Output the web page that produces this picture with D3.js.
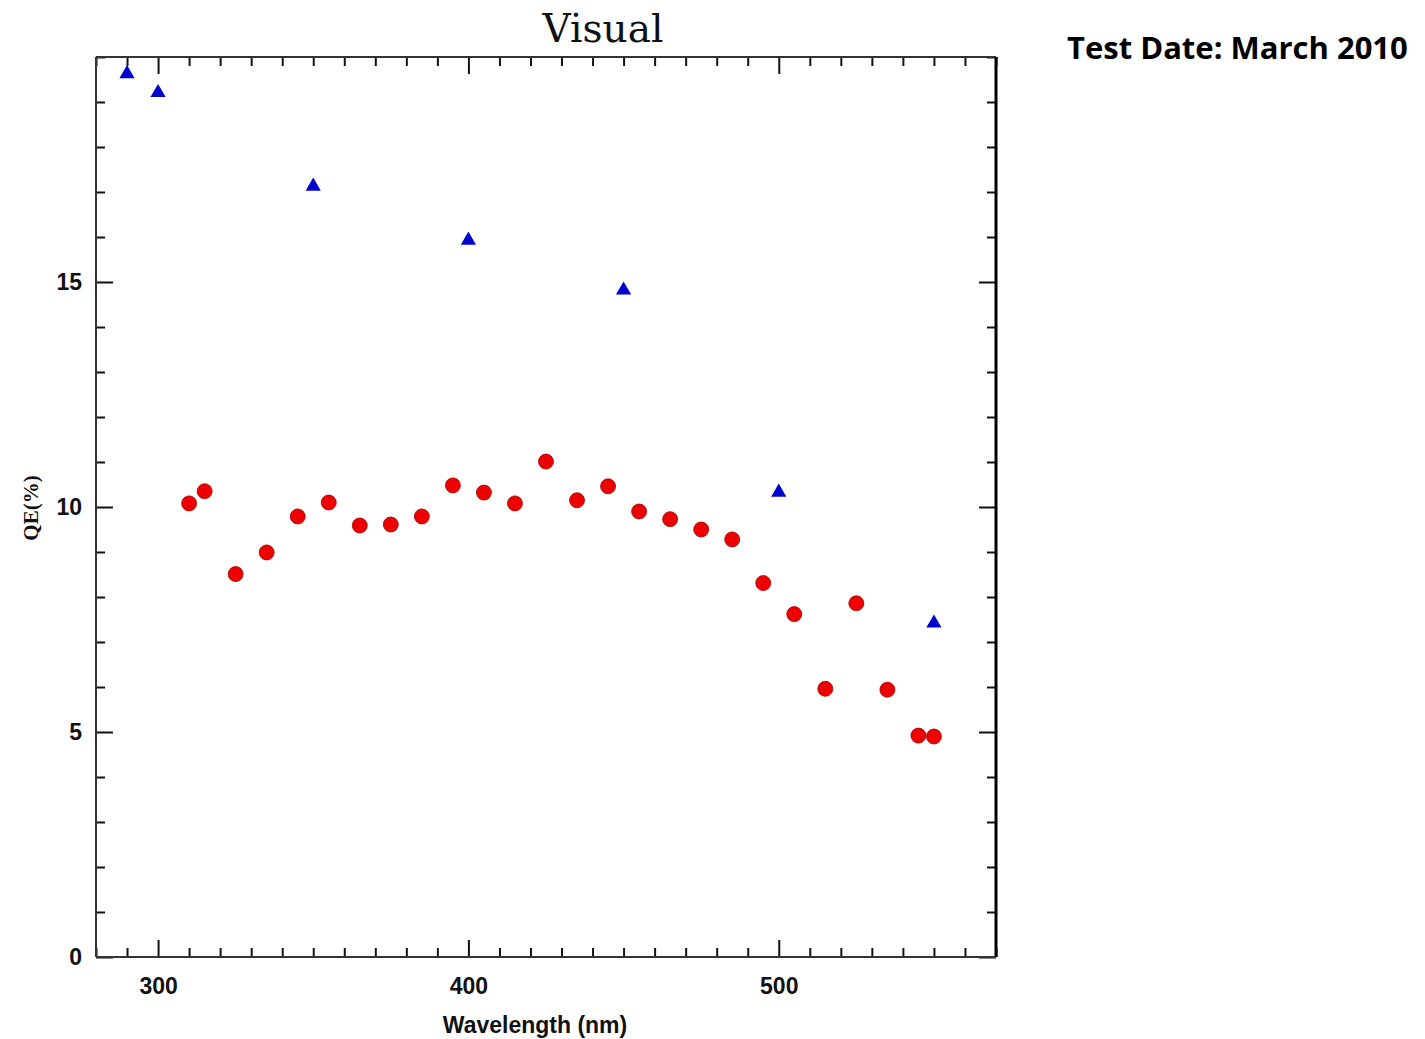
<!DOCTYPE html>
<html>
<head>
<meta charset="utf-8">
<script src="https://cdn.jsdelivr.net/npm/d3@7"></script>
<style>
  body { margin: 0; background: #fff; }
</style>
</head>
<body>
<script>
// red circles: measured QE
const wlRed = [310, 315, 325, 335, 345, 355, 365, 375, 385, 395, 405, 415, 425,
               435, 445, 455, 465, 475, 485, 495, 505, 515, 525, 535, 545, 550];
const qeRed = [10.08, 10.35, 8.51, 8.99, 9.79, 10.10, 9.59, 9.61, 9.79, 10.48, 10.32, 10.08, 11.01,
               10.15, 10.46, 9.90, 9.73, 9.50, 9.28, 8.31, 7.62, 5.96, 7.86, 5.94, 4.92, 4.90];
// blue triangles
const wlBlue = [290, 300, 350, 400, 450, 500, 550];
const qeBlue = [19.65, 19.23, 17.15, 15.95, 14.84, 10.35, 7.44];

const xMajor = [300, 400, 500];
const yMajor = [0, 5, 10, 15];

const W = 1425, H = 1039;
const pLeft = 96, pRight = 996, pTop = 57, pBottom = 957;

const svg = d3.select("body").append("svg")
    .attr("width", W)
    .attr("height", H);

const x = d3.scaleLinear().domain([280, 570]).range([pLeft, pRight]);
const y = d3.scaleLinear().domain([0, 20]).range([pBottom, pTop]);

const xMinor = d3.range(280, 571, 10).filter(d => !xMajor.includes(d));
const yMinor = d3.range(0, 21, 1).filter(d => !yMajor.includes(d));

function styleAxis(g, showText) {
  g.select(".domain").remove();
  g.selectAll(".tick line").attr("stroke", "#111").attr("stroke-width", 2);
  if (!showText) g.selectAll(".tick text").remove();
  else g.selectAll(".tick text")
        .attr("font-family", "Liberation Sans, Arial, sans-serif")
        .attr("font-weight", "bold")
        .attr("font-size", 23)
        .attr("fill", "#111");
}

// bottom
svg.append("g").attr("transform", `translate(0,${pBottom})`)
  .call(d3.axisBottom(x).tickValues(xMinor).tickSize(-9)).call(g => styleAxis(g, false));
svg.append("g").attr("transform", `translate(0,${pBottom})`)
  .call(d3.axisBottom(x).tickValues(xMajor).tickSize(-17).tickPadding(21).tickFormat(d3.format("d")))
  .call(g => styleAxis(g, true));
// top
svg.append("g").attr("transform", `translate(0,${pTop})`)
  .call(d3.axisTop(x).tickValues(xMinor).tickSize(-9)).call(g => styleAxis(g, false));
svg.append("g").attr("transform", `translate(0,${pTop})`)
  .call(d3.axisTop(x).tickValues(xMajor).tickSize(-17)).call(g => styleAxis(g, false));
// left
svg.append("g").attr("transform", `translate(${pLeft},0)`)
  .call(d3.axisLeft(y).tickValues(yMinor).tickSize(-9)).call(g => styleAxis(g, false));
svg.append("g").attr("transform", `translate(${pLeft},0)`)
  .call(d3.axisLeft(y).tickValues(yMajor).tickSize(-17).tickPadding(14).tickFormat(d3.format("d")))
  .call(g => styleAxis(g, true));
// right
svg.append("g").attr("transform", `translate(${pRight},0)`)
  .call(d3.axisRight(y).tickValues(yMinor).tickSize(-9)).call(g => styleAxis(g, false));
svg.append("g").attr("transform", `translate(${pRight},0)`)
  .call(d3.axisRight(y).tickValues(yMajor).tickSize(-17)).call(g => styleAxis(g, false));

// frame
svg.append("line").attr("x1", pLeft).attr("x2", pRight).attr("y1", pBottom).attr("y2", pBottom)
  .attr("stroke", "#333").attr("stroke-width", 2);
svg.append("line").attr("x1", pLeft).attr("x2", pRight).attr("y1", pTop).attr("y2", pTop)
  .attr("stroke", "#333").attr("stroke-width", 2);
svg.append("line").attr("x1", pLeft).attr("x2", pLeft).attr("y1", pTop).attr("y2", pBottom)
  .attr("stroke", "#333").attr("stroke-width", 2);
svg.append("line").attr("x1", pRight).attr("x2", pRight).attr("y1", pTop).attr("y2", pBottom)
  .attr("stroke", "#000").attr("stroke-width", 3);

// red circles
const redData = wlRed.map((w, i) => ({ w: w, q: qeRed[i] }));
svg.selectAll("circle.red")
  .data(redData)
  .enter()
  .append("circle")
  .attr("class", "red")
  .attr("cx", d => x(d.w))
  .attr("cy", d => y(d.q))
  .attr("r", 7.5)
  .attr("fill", "#ee0000")
  .attr("stroke", "#a00000")
  .attr("stroke-width", 0.8);

// blue triangles
const blueData = wlBlue.map((w, i) => ({ w: w, q: qeBlue[i] }));
const tri = d3.symbol().type(d3.symbolTriangle).size(100);
svg.selectAll("path.blue")
  .data(blueData)
  .enter()
  .append("path")
  .attr("class", "blue")
  .attr("d", tri)
  .attr("transform", d => `translate(${x(d.w)},${y(d.q) + 1})`)
  .attr("fill", "#0000cc");

// title
svg.append("text")
  .attr("x", 603).attr("y", 42)
  .attr("text-anchor", "middle")
  .attr("font-family", "DejaVu Serif, serif")
  .attr("font-size", 39)
  .attr("fill", "#111")
  .text("Visual");

// axis labels
svg.append("text")
  .attr("x", 535).attr("y", 1033)
  .attr("text-anchor", "middle")
  .attr("font-family", "Liberation Sans, Arial, sans-serif")
  .attr("font-weight", "bold")
  .attr("font-size", 23)
  .attr("fill", "#111")
  .text("Wavelength (nm)");

svg.append("text")
  .attr("transform", "translate(38,508) rotate(-90)")
  .attr("text-anchor", "middle")
  .attr("font-family", "Liberation Serif, serif")
  .attr("font-weight", "bold")
  .attr("font-size", 21)
  .attr("fill", "#111")
  .text("QE(%)");

// side note
svg.append("text")
  .attr("x", 1067).attr("y", 59)
  .attr("font-family", "Open Sans, sans-serif")
  .attr("font-weight", "bold")
  .attr("font-size", 31)
  .attr("fill", "#000")
  .text("Test Date: March 2010");
</script>
</body>
</html>
